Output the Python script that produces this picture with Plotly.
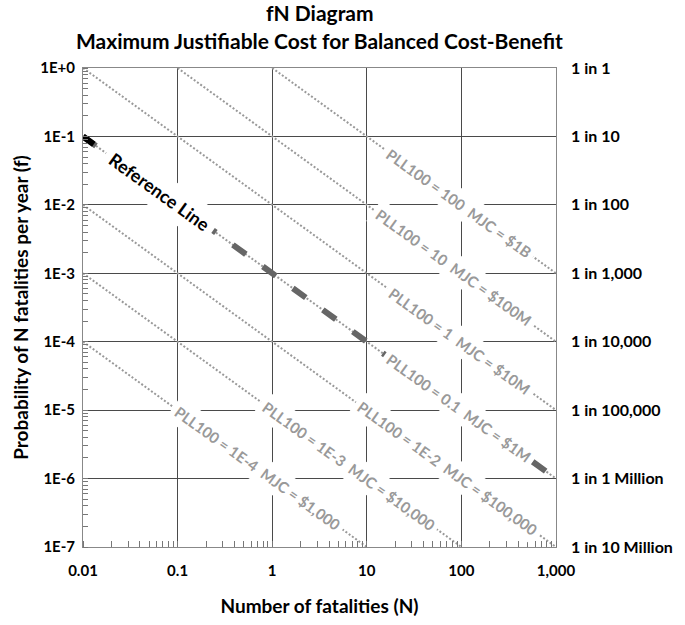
import numpy as np
import plotly.graph_objects as go

# Axis ticks
N_ticks = [0.01, 0.1, 1, 10, 100, 1000]
N_tick_text = ["0.01", "0.1", "1", "10", "100", "1,000"]
f_ticks = [1, 1e-1, 1e-2, 1e-3, 1e-4, 1e-5, 1e-6, 1e-7]
f_tick_text = ["1E+0", "1E-1", "1E-2", "1E-3", "1E-4", "1E-5", "1E-6", "1E-7"]
f_odds_text = ["1 in 1", "1 in 10", "1 in 100", "1 in 1,000", "1 in 10,000",
               "1 in 100,000", "1 in 1 Million", "1 in 10 Million"]

# Iso-PLL lines (PLL over 100 years) and the matching max justifiable cost
pll100_values = [100, 10, 1, 0.1, 1e-2, 1e-3, 1e-4]
pll100_text = ["100", "10", "1", "0.1", "1E-2", "1E-3", "1E-4"]
mjc_text = ["$1B", "$100M", "$10M", "$1M", "$100,000", "$10,000", "$1,000"]
label_at_N = [94, 82, 96, 94, 71, 6.5, 0.70]   # where each label sits along its line

# Reference line
ref_N = [0.01, 1000]
ref_f = [0.1, 1e-6]
ref_label_N = 0.065

N_min, N_max = 0.01, 1000
f_min, f_max = 1e-7, 1

FONT = "Lato"
fig = go.Figure()

# dotted iso-risk lines
for pll in pll100_values:
    fN = pll / 100.0
    n0 = max(N_min, fN / f_max)
    n1 = min(N_max, fN / f_min)
    fig.add_trace(go.Scatter(x=[n0, n1], y=[fN / n0, fN / n1], mode='lines',
                             line=dict(color='#999999', width=2, dash='2px,2px'),
                             hoverinfo='skip', showlegend=False))

# reference line (dashed grey, first dash black)
fig.add_trace(go.Scatter(x=ref_N, y=ref_f, mode='lines',
                         line=dict(color='#666666', width=6, dash='16px,21px'),
                         showlegend=False))
n_end = ref_N[0] * 1.3
fig.add_trace(go.Scatter(x=[ref_N[0], n_end], y=[ref_f[0], ref_f[0] * ref_N[0] / n_end],
                         mode='lines', line=dict(color='black', width=6),
                         showlegend=False))

# invisible trace for the right hand axis
fig.add_trace(go.Scatter(x=[N_min, N_max], y=[f_max, f_min], yaxis='y2', mode='lines',
                         line=dict(width=0), opacity=0, hoverinfo='skip', showlegend=False))

# slope of the lines in pixels (plot area 487 x 490 px)
angle = np.degrees(np.arctan((490 / 7) / (487 / 5)))

for pll, ptxt, mtxt, n in zip(pll100_values, pll100_text, mjc_text, label_at_N):
    fN = pll / 100.0
    fig.add_annotation(x=np.log10(n), y=np.log10(fN / n), xref='x', yref='y',
                       text="PLL100 = " + ptxt + "\u00a0\u00a0MJC = " + mtxt,
                       showarrow=False, textangle=angle, bgcolor='white', borderpad=4,
                       font=dict(family=FONT, size=15, color='#999999', weight='bold'))

ref_slope = np.log10(ref_f[1] / ref_f[0]) / np.log10(ref_N[1] / ref_N[0])
ref_label_f = ref_f[0] * (ref_label_N / ref_N[0]) ** ref_slope
fig.add_annotation(x=np.log10(ref_label_N), y=np.log10(ref_label_f), xref='x', yref='y',
                   text="Reference Line", showarrow=False, textangle=angle,
                   bgcolor='white', borderpad=6,
                   font=dict(family=FONT, size=18, color='black', weight='bold'))

# two-line title
fig.add_annotation(x=0.5, y=1.115, xref='paper', yref='paper', text="fN Diagram",
                   showarrow=False, yanchor='middle',
                   font=dict(family=FONT, size=21, color='black', weight='bold'))
fig.add_annotation(x=0.5, y=1.058, xref='paper', yref='paper',
                   text="Maximum Justifiable Cost for Balanced Cost-Benefit",
                   showarrow=False, yanchor='middle',
                   font=dict(family=FONT, size=21, color='black', weight='bold'))

fig.update_layout(
    width=685, height=625,
    margin=dict(l=83, r=115, t=68, b=67),
    paper_bgcolor='white', plot_bgcolor='white',
    font=dict(family=FONT, color='black'),
    xaxis=dict(type='log', range=[np.log10(N_min), np.log10(N_max)],
               tickmode='array', tickvals=N_ticks, ticktext=N_tick_text,
               ticks='', ticklabelstandoff=10, showgrid=True, gridcolor='#4a4a4a', gridwidth=1,
               showline=True, linecolor='#888888', linewidth=1, mirror=True,
               zeroline=False,
               minor=dict(ticks='inside', ticklen=6, tickcolor='#777777', dtick='D1',
                          showgrid=False),
               tickfont=dict(family=FONT, size=15, color='black', weight='bold'),
               title=dict(text="Number of fatalities (N)", standoff=21,
                          font=dict(family=FONT, size=19, color='black', weight='bold'))),
    yaxis=dict(type='log', range=[np.log10(f_min), np.log10(f_max)],
               tickmode='array', tickvals=f_ticks, ticktext=f_tick_text,
               ticks='', ticklabelstandoff=4, showgrid=True, gridcolor='#4a4a4a', gridwidth=1,
               showline=True, linecolor='#888888', linewidth=1, mirror=True,
               zeroline=False,
               minor=dict(ticks='inside', ticklen=5, tickcolor='#777777', dtick='D1',
                          showgrid=False),
               tickfont=dict(family=FONT, size=15, color='black', weight='bold'),
               title=dict(text="Probability of N fatalities per year (f)", standoff=6,
                          font=dict(family=FONT, size=19, color='black', weight='bold'))),
    yaxis2=dict(type='log', range=[np.log10(f_min), np.log10(f_max)], overlaying='y',
                side='right', tickmode='array', tickvals=f_ticks, ticktext=f_odds_text,
                ticks='', ticklabelstandoff=14, showgrid=False, zeroline=False, showline=False,
                tickfont=dict(family=FONT, size=16, color='black', weight='bold')),
)

fig.write_html("out.html", config={'displayModeBar': False},
               post_script="document.body.style.margin='0';")
